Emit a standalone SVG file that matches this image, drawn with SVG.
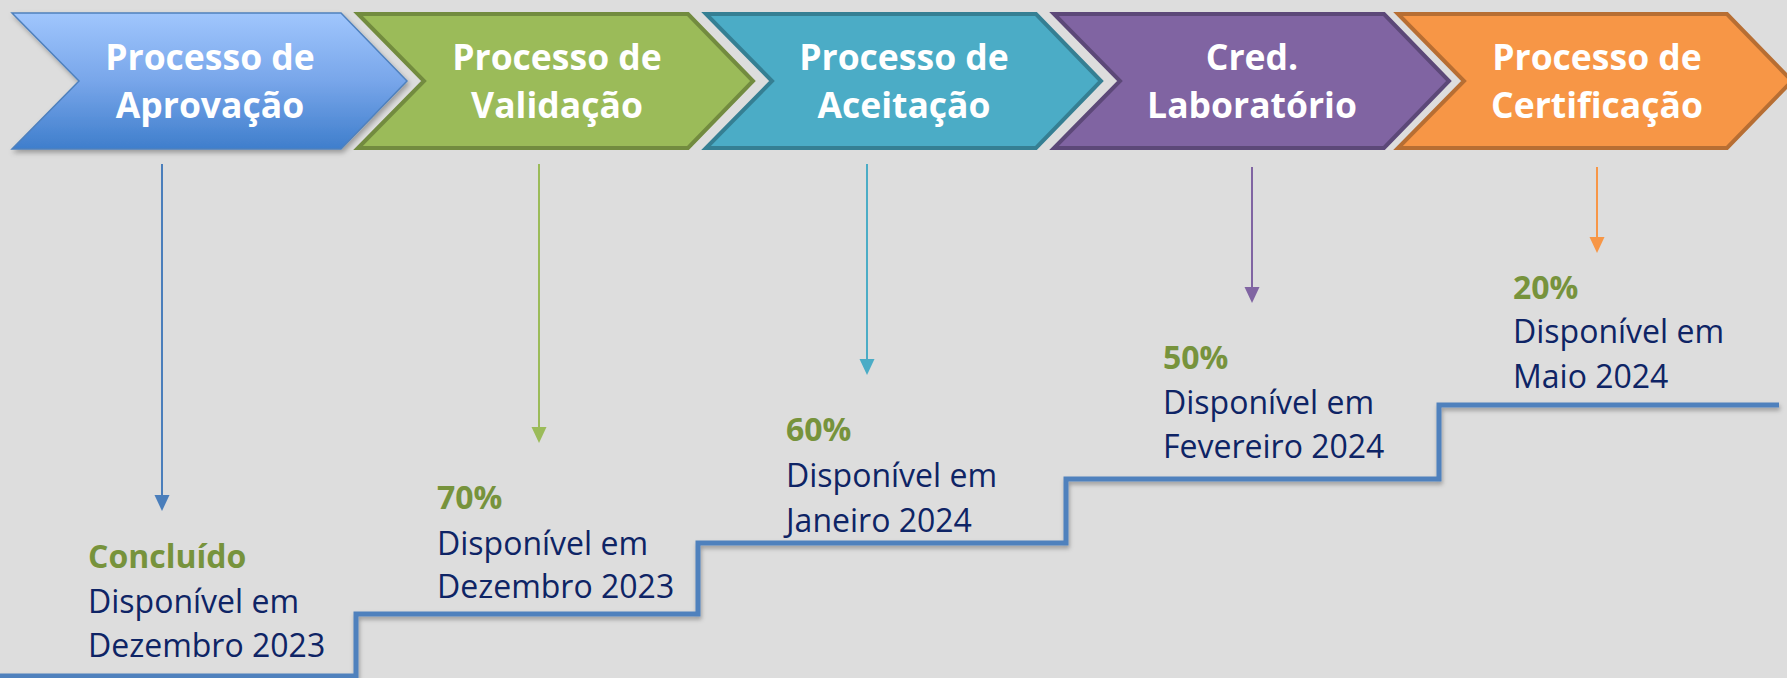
<svg xmlns="http://www.w3.org/2000/svg" width="1787" height="678" viewBox="0 0 1787 678">
  <defs>
    <linearGradient id="gBlue" x1="0" y1="0" x2="0" y2="1">
      <stop offset="0" stop-color="#A0C6FD"/>
      <stop offset="0.5" stop-color="#78A6EA"/>
      <stop offset="1" stop-color="#3F7ECC"/>
    </linearGradient>
    <filter id="shadow" x="-5%" y="-10%" width="115%" height="130%">
      <feDropShadow dx="2" dy="3" stdDeviation="2.5" flood-color="#000" flood-opacity="0.3"/>
    </filter>
    <filter id="lineShadow" x="-2%" y="-20%" width="104%" height="140%">
      <feDropShadow dx="1" dy="3" stdDeviation="2" flood-color="#000" flood-opacity="0.3"/>
    </filter>
    <marker id="mBlue" markerUnits="userSpaceOnUse" markerWidth="16" markerHeight="16" refX="2" refY="7.5" orient="auto"><path d="M0,0 L16,7.5 L0,15 z" fill="#4A7EBB"/></marker>
    <marker id="mGreen" markerUnits="userSpaceOnUse" markerWidth="16" markerHeight="16" refX="2" refY="7.5" orient="auto"><path d="M0,0 L16,7.5 L0,15 z" fill="#9BBB59"/></marker>
    <marker id="mTeal" markerUnits="userSpaceOnUse" markerWidth="16" markerHeight="16" refX="2" refY="7.5" orient="auto"><path d="M0,0 L16,7.5 L0,15 z" fill="#4BACC6"/></marker>
    <marker id="mPurple" markerUnits="userSpaceOnUse" markerWidth="16" markerHeight="16" refX="2" refY="7.5" orient="auto"><path d="M0,0 L16,7.5 L0,15 z" fill="#8064A2"/></marker>
    <marker id="mOrange" markerUnits="userSpaceOnUse" markerWidth="16" markerHeight="16" refX="2" refY="7.5" orient="auto"><path d="M0,0 L16,7.5 L0,15 z" fill="#F79646"/></marker>
  </defs>
  <style>
    .title { font-family: "Open Sans", "Noto Sans", "DejaVu Sans", sans-serif; font-weight: bold; font-size: 35.5px; fill: #FFFFFF; text-anchor: middle; }
    .pct { font-family: "Open Sans", "Noto Sans", "DejaVu Sans", sans-serif; font-weight: bold; font-size: 32px; fill: #77933C; }
    .body { font-family: "Open Sans", "Noto Sans", "DejaVu Sans", sans-serif; font-size: 32px; fill: #0E2465; }
    .chev { stroke-width: 4; stroke-linejoin: miter; }
    .conn { stroke-width: 2; fill: none; }
  </style>
  <rect x="0" y="0" width="1787" height="678" fill="#DDDDDD"/>

  <g id="node-aprovacao">
    <polygon points="12,13 341,13 407,81 341,149 12,149 79,81" fill="url(#gBlue)" stroke="#4F81BD" stroke-width="1.5" filter="url(#shadow)"/>
    <text class="title" x="210" y="70">Processo de</text>
    <text class="title" x="210" y="118">Aprovação</text>
  </g>
  <g id="node-validacao">
    <polygon class="chev" points="358,14 688,14 753,81 688,148 358,148 424,81" fill="#9BBB59" stroke="#728B3F"/>
    <text class="title" x="557" y="70">Processo de</text>
    <text class="title" x="557" y="118">Validação</text>
  </g>
  <g id="node-aceitacao">
    <polygon class="chev" points="706,14 1036,14 1101,81 1036,148 706,148 772,81" fill="#4BACC6" stroke="#357F93"/>
    <text class="title" x="904" y="70">Processo de</text>
    <text class="title" x="904" y="118">Aceitação</text>
  </g>
  <g id="node-laboratorio">
    <polygon class="chev" points="1054,14 1384,14 1449,81 1384,148 1054,148 1120,81" fill="#8064A2" stroke="#5C4878"/>
    <text class="title" x="1252" y="70">Cred.</text>
    <text class="title" x="1252" y="118">Laboratório</text>
  </g>
  <g id="node-certificacao">
    <polygon class="chev" points="1398,14 1727,14 1792,81 1727,148 1398,148 1464,81" fill="#F79646" stroke="#B76E33"/>
    <text class="title" x="1597" y="70">Processo de</text>
    <text class="title" x="1597" y="118">Certificação</text>
  </g>

  <g id="connectors">
    <line class="conn" x1="162" y1="164" x2="162" y2="497" stroke="#4A7EBB" marker-end="url(#mBlue)"/>
    <line class="conn" x1="539" y1="164" x2="539" y2="429" stroke="#9BBB59" marker-end="url(#mGreen)"/>
    <line class="conn" x1="867" y1="164" x2="867" y2="361" stroke="#4BACC6" marker-end="url(#mTeal)"/>
    <line class="conn" x1="1252" y1="167" x2="1252" y2="289" stroke="#8064A2" marker-end="url(#mPurple)"/>
    <line class="conn" x1="1597" y1="167" x2="1597" y2="239" stroke="#F79646" marker-end="url(#mOrange)"/>
  </g>

  <g id="steps">
    <path d="M0,676 H356 V614 H698 V543 H1066 V479 H1439 V405 H1779" fill="none" stroke="#4F81BD" stroke-width="5" stroke-linejoin="miter" filter="url(#lineShadow)"/>
  </g>

  <g id="label-aprovacao">
    <text class="pct" x="88" y="568">Concluído</text>
    <text class="body" x="88" y="613">Disponível em</text>
    <text class="body" x="88" y="657">Dezembro 2023</text>
  </g>
  <g id="label-validacao">
    <text class="pct" x="437" y="509">70%</text>
    <text class="body" x="437" y="555">Disponível em</text>
    <text class="body" x="437" y="598">Dezembro 2023</text>
  </g>
  <g id="label-aceitacao">
    <text class="pct" x="786" y="441">60%</text>
    <text class="body" x="786" y="487">Disponível em</text>
    <text class="body" x="786" y="532">Janeiro 2024</text>
  </g>
  <g id="label-laboratorio">
    <text class="pct" x="1163" y="369">50%</text>
    <text class="body" x="1163" y="414">Disponível em</text>
    <text class="body" x="1163" y="458">Fevereiro 2024</text>
  </g>
  <g id="label-certificacao">
    <text class="pct" x="1513" y="299">20%</text>
    <text class="body" x="1513" y="343">Disponível em</text>
    <text class="body" x="1513" y="388">Maio 2024</text>
  </g>
</svg>
